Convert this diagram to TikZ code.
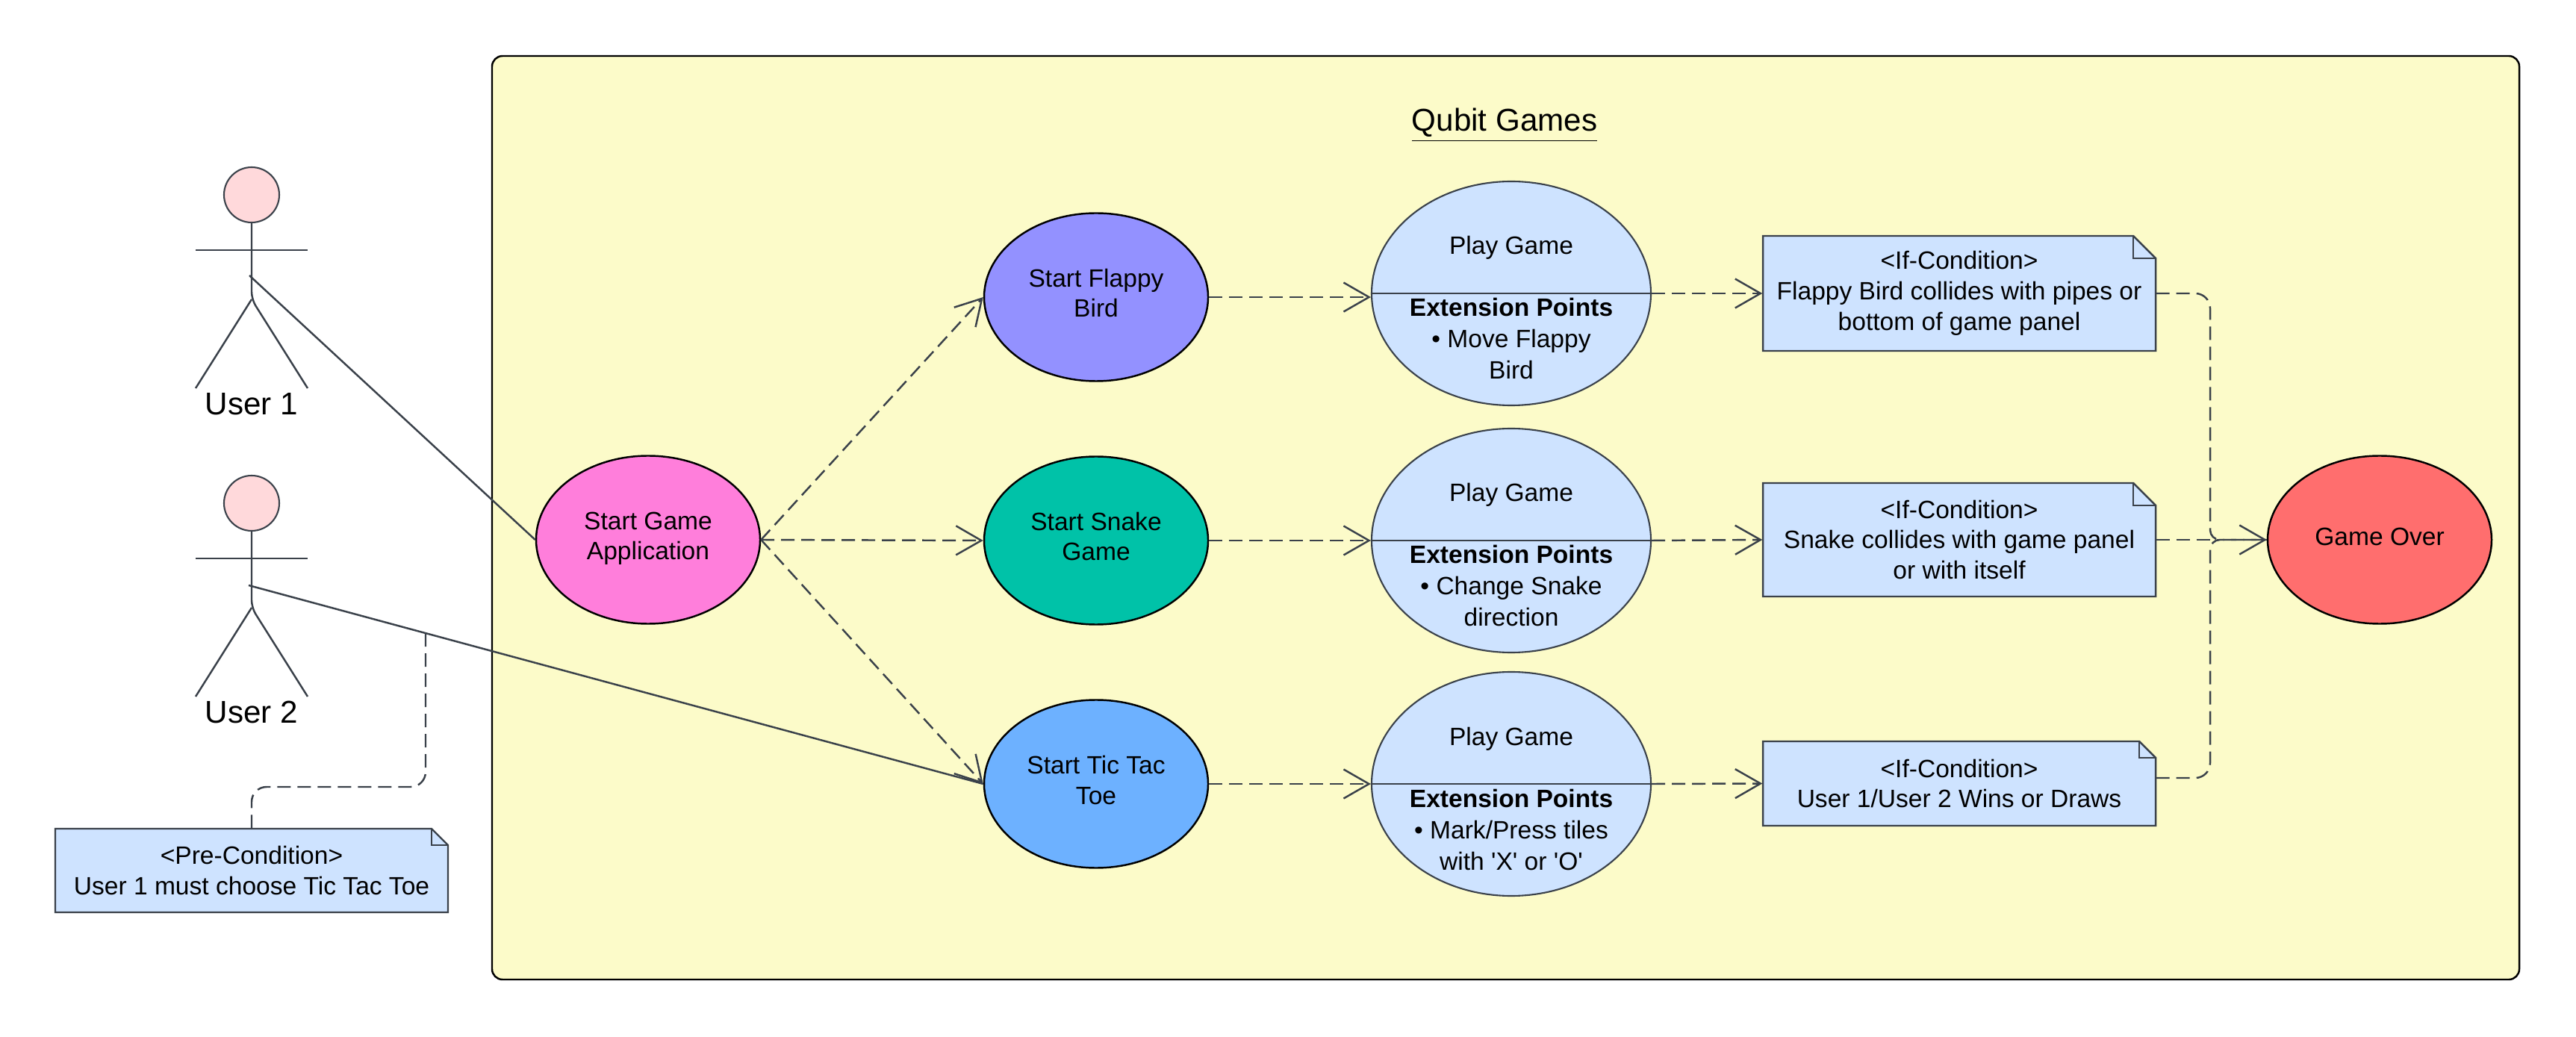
\documentclass[tikz,border=0pt]{standalone}
\usepackage{fontspec}
\setmainfont{Liberation Sans}
\usetikzlibrary{arrows.meta, shapes.geometric}

\definecolor{inkline}{HTML}{3A414A}
\definecolor{panelfill}{HTML}{FCFBC9}
\definecolor{notefill}{HTML}{CEE3FF}
\definecolor{headfill}{HTML}{FFD9DB}

\tikzset{
  bodytext/.style={font=\fontsize{9.55}{11.6}\selectfont},
  usecase/.style={ellipse, draw=black, line width=0.7pt, inner sep=0pt, minimum width=3cm, minimum height=2.25cm, align=center, bodytext, text height=0.65cm, text depth=0.11cm},
  playcase/.style={ellipse, draw=inkline, fill=notefill, line width=0.6pt, inner sep=0pt, minimum width=3.74cm, minimum height=3cm},
  playline/.style={bodytext, inner sep=0pt, text height=0.24cm, text depth=0.07cm},
  notepaper/.style={draw=inkline, fill=notefill, line width=0.7pt},
  notebody/.style={inner sep=0pt, minimum width=5.26cm, align=center, bodytext},
  plainlink/.style={draw=inkline, line width=0.7pt},
  flow/.style={draw=inkline, line width=0.7pt, dash pattern=on 0.18cm off 0.09cm, -{Straight Barb[length=0.34cm, width=0.39cm]}},
  notelink/.style={draw=inkline, line width=0.7pt, dash pattern=on 0.18cm off 0.09cm, rounded corners=0.2cm}
}

% name, centre x, centre y, height, fold, text
\newcommand{\notebox}[6]{
  \begin{scope}[shift={(#2,#3)}]
    \draw[notepaper] (-2.63,-#4/2) -- (-2.63,#4/2) -- (2.63-#5,#4/2) -- (2.63,#4/2-#5) -- (2.63,-#4/2) -- cycle;
    \draw[plainlink] (2.63-#5,#4/2) -- (2.63-#5,#4/2-#5) -- (2.63,#4/2-#5);
  \end{scope}
  \node[notebody, minimum height=#4cm] (#1) at (#2,#3) {#6};
}

% name, head centre y, text
\newcommand{\stickuser}[3]{
  \node[circle, draw=inkline, fill=headfill, line width=0.6pt, minimum size=0.74cm, inner sep=0pt] (#1Head) at (3.37,#2) {};
  \begin{scope}[shift={(3.37,#2)}]
    \draw[plainlink] (-0.75,-0.74) -- (0.75,-0.74);
    \draw[plainlink, rounded corners=0.1cm] (0,-0.37) -- (0,-1.40) -- (0.75,-2.59);
    \draw[plainlink] (0,-1.40) -- (-0.75,-2.59);
  \end{scope}
  \node[font=\fontsize{12}{14}\selectfont, inner sep=0pt] (#1) at (3.37,#2-2.80) {#3};
}

\begin{document}
\begin{tikzpicture}
    \useasboundingbox (0,0) rectangle (34.5,13.88);

    % --- panel ---
    \draw[draw=black, fill=panelfill, line width=0.7pt, rounded corners=0.14cm] (6.59,0.76) rectangle (33.74,13.13);
    \node[font=\fontsize{12}{14}\selectfont, inner sep=0pt] (panelTitle) at (20.15,12.20) {\underline{Qubit Games}};

    % --- users ---
    \stickuser{userOne}{11.27}{User 1}
    \stickuser{userTwo}{7.14}{User 2}
    \coordinate (userOneLink) at (3.34,10.19);
    \coordinate (userTwoLink) at (3.33,6.04);
    \coordinate (preLink) at (5.70,5.40);

    % --- start nodes ---
    \node[usecase, fill={rgb,255:red,255;green,126;blue,219}] (startApp) at (8.68,6.65) {Start Game\\Application};
    \node[usecase, fill={rgb,255:red,147;green,145;blue,255}] (startFlappy) at (14.68,9.90) {Start Flappy\\Bird};
    \node[usecase, fill={rgb,255:red,0;green,194;blue,168}] (startSnake) at (14.68,6.64) {Start Snake\\Game};
    \node[usecase, fill={rgb,255:red,109;green,177;blue,255}] (startTic) at (14.68,3.38) {Start Tic Tac\\Toe};
    \node[usecase, text height=0.24cm, text depth=0.09cm, fill={rgb,255:red,255;green,110;blue,110}] (gameOver) at (31.87,6.65) {Game Over};

    % --- play nodes ---
    \foreach \game/\gy/\lineA/\lineB in {Flappy/9.95/{\textbullet\ Move Flappy}/{Bird},
                                         Snake/6.64/{\textbullet\ Change Snake}/{direction},
                                         Tic/3.38/{\textbullet\ Mark/Press tiles}/{with \textquotesingle X\textquotesingle\ or \textquotesingle O\textquotesingle}} {
        \node[playcase] (play\game) at (20.24,\gy) {};
        \draw[plainlink] (play\game.west) -- (play\game.east);
        \node[playline] (title\game) at ([yshift=0.605cm]play\game.center) {Play Game};
        \node[playline] (ext\game) at ([yshift=-0.225cm]play\game.center) {\textbf{Extension Points}};
        \node[playline] (lineA\game) at ([yshift=-0.645cm]play\game.center) {\lineA};
        \node[playline] (lineB\game) at ([yshift=-1.065cm]play\game.center) {\lineB};
    }

    % --- notes ---
    \notebox{noteFlappy}{26.24}{9.95}{1.54}{0.30}{<If-Condition>\\Flappy Bird collides with pipes or\\bottom of game panel}
    \notebox{noteSnake}{26.24}{6.65}{1.52}{0.30}{<If-Condition>\\Snake collides with game panel\\or with itself}
    \notebox{noteTic}{26.24}{3.385}{1.13}{0.22}{<If-Condition>\\User 1/User 2 Wins or Draws}
    \notebox{notePre}{3.37}{2.22}{1.12}{0.22}{<Pre-Condition>\\User 1 must choose Tic Tac Toe}

    % --- links ---
    \draw[plainlink] (userOneLink) -- (startApp.west);
    \draw[plainlink] (userTwoLink) -- (startTic.west);

    \draw[flow] (startApp.east) -- (startFlappy.west);
    \draw[flow] (startApp.east) -- (startSnake.west);
    \draw[flow] (startApp.east) -- (startTic.west);

    \foreach \game in {Flappy, Snake, Tic} {
        \draw[flow] (start\game.east) -- (start\game.east -| play\game.west);
        \draw[flow] (play\game.east) -- (note\game.west);
    }

    \draw[notelink] (noteFlappy.east) -- (29.60,9.95) [rounded corners=0.13cm] -- (29.60,6.65) -- (gameOver.west);
    \draw[notelink] (noteTic.east |- 0,3.46) -- (29.60,3.46) [rounded corners=0.13cm] -- (29.60,6.65) -- (gameOver.west);
    \draw[flow] (noteSnake.east) -- (gameOver.west);
    \draw[notelink] (notePre.north) -- (3.37,3.34) -- (5.70,3.34) -- (preLink);
\end{tikzpicture}
\end{document}
